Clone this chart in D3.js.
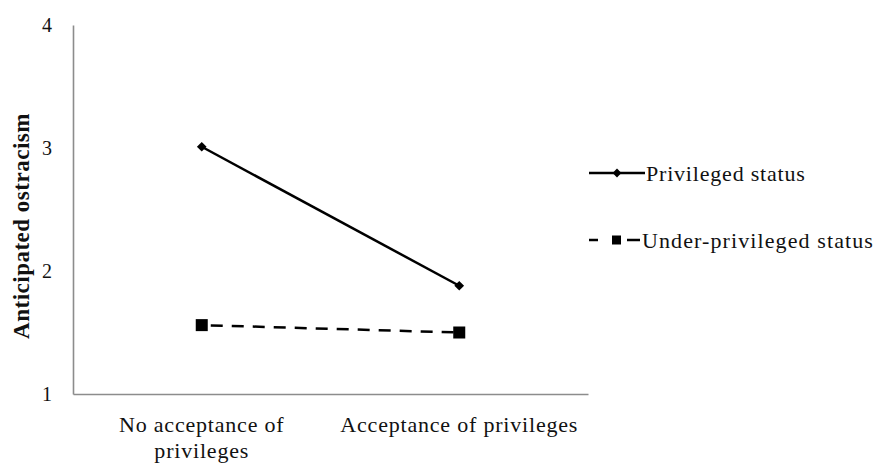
<!DOCTYPE html>
<html>
<head>
<meta charset="utf-8">
<script src="https://cdn.jsdelivr.net/npm/d3@7"></script>
<style>
  body { margin: 0; background: #fff; }
  text { font-family: "Liberation Serif", "Times New Roman", serif; fill: #111; }
</style>
</head>
<body>
<div id="chart"></div>
<script>
// data
const categories = ["No acceptance of privileges", "Acceptance of privileges"];
const privileged = [3.01, 1.88];
const underPrivileged = [1.56, 1.50];
const yTicks = [1, 2, 3, 4];
const seriesNames = ["Privileged status", "Under-privileged status"];

const width = 877, height = 463;
const margin = {top: 25, right: 289, bottom: 69, left: 73};

const svg = d3.select('#chart').append('svg')
  .attr('width', width)
  .attr('height', height);

const x = d3.scaleBand()
  .domain(categories)
  .range([margin.left, width - margin.right]);

const y = d3.scaleLinear()
  .domain([1, 4])
  .range([height - margin.bottom, margin.top]);

// axes
const yAxis = svg.append('g')
  .attr('transform', `translate(${margin.left},0)`)
  .call(d3.axisLeft(y).tickValues(yTicks).tickFormat(d3.format('d')).tickSize(0).tickPadding(21));
yAxis.select('.domain').attr('stroke', '#8c8c8c').attr('stroke-width', 1.6);
yAxis.selectAll('text')
  .style('font-size', '20px')
  .style('font-family', '"Liberation Serif", serif')
  .attr('fill', '#111');

const xAxis = svg.append('g')
  .attr('transform', `translate(0,${height - margin.bottom})`)
  .call(d3.axisBottom(x).tickSize(0).tickFormat(''));
xAxis.select('.domain').attr('stroke', '#8c8c8c').attr('stroke-width', 1.6);

// category labels (wrapped by hand like the original)
const catLines = [["No acceptance of", "privileges"], ["Acceptance of privileges"]];
categories.forEach((c, i) => {
  const t = svg.append('text')
    .attr('x', x(c) + x.bandwidth() / 2)
    .attr('y', height - margin.bottom + 38)
    .attr('text-anchor', 'middle')
    .style('font-size', '22px')
    .style('letter-spacing', '0.8px');
  catLines[i].forEach((line, j) => {
    t.append('tspan')
      .attr('x', x(c) + x.bandwidth() / 2)
      .attr('dy', j === 0 ? 0 : 26)
      .text(line);
  });
});

// y title
svg.append('text')
  .attr('transform', `translate(29,${226}) rotate(-90)`)
  .attr('text-anchor', 'middle')
  .style('font-size', '23px')
  .style('font-weight', 'bold')
  .style('letter-spacing', '0.5px')
  .text('Anticipated  ostracism');

const cx = d => x(d) + x.bandwidth() / 2;

const line = d3.line()
  .x((d, i) => cx(categories[i]))
  .y(d => y(d));

// privileged: solid with diamonds
svg.append('path')
  .datum(privileged)
  .attr('d', line)
  .attr('fill', 'none')
  .attr('stroke', '#000')
  .attr('stroke-width', 2.5);

svg.selectAll('.diamond')
  .data(privileged)
  .enter().append('path')
  .attr('class', 'diamond')
  .attr('d', d3.symbol().type(d3.symbolDiamond2).size(60))
  .attr('transform', (d, i) => `translate(${cx(categories[i])},${y(d)})`)
  .attr('fill', '#000');

// under-privileged: dashed with squares
svg.append('path')
  .datum(underPrivileged)
  .attr('d', line)
  .attr('fill', 'none')
  .attr('stroke', '#000')
  .attr('stroke-width', 2.5)
  .attr('stroke-dasharray', '12,9')
  .attr('stroke-dashoffset', -9);

svg.selectAll('.square')
  .data(underPrivileged)
  .enter().append('rect')
  .attr('class', 'square')
  .attr('x', (d, i) => cx(categories[i]) - 6)
  .attr('y', d => y(d) - 6)
  .attr('width', 12)
  .attr('height', 12)
  .attr('fill', '#000');

// legend
const legend = svg.append('g').attr('transform', 'translate(589,0)');
const legY = [173, 240];

legend.append('line')
  .attr('x1', 0).attr('x2', 56).attr('y1', legY[0]).attr('y2', legY[0])
  .attr('stroke', '#000').attr('stroke-width', 2.5);
legend.append('path')
  .attr('d', d3.symbol().type(d3.symbolDiamond2).size(50))
  .attr('transform', `translate(28,${legY[0]})`)
  .attr('fill', '#000');

legend.append('line')
  .attr('x1', 0).attr('x2', 9).attr('y1', legY[1]).attr('y2', legY[1])
  .attr('stroke', '#000').attr('stroke-width', 2.5);
legend.append('line')
  .attr('x1', 38).attr('x2', 51).attr('y1', legY[1]).attr('y2', legY[1])
  .attr('stroke', '#000').attr('stroke-width', 2.5);
legend.append('rect')
  .attr('x', 23).attr('y', legY[1] - 4.5).attr('width', 9).attr('height', 9)
  .attr('fill', '#000');

legend.selectAll('.leg-text')
  .data(seriesNames)
  .enter().append('text')
  .attr('class', 'leg-text')
  .attr('x', (d, i) => i === 0 ? 57 : 53)
  .attr('y', (d, i) => legY[i] + 8)
  .style('font-size', '22px')
  .style('letter-spacing', (d, i) => i === 0 ? '0.8px' : '1.1px')
  .text(d => d);
</script>
</body>
</html>
